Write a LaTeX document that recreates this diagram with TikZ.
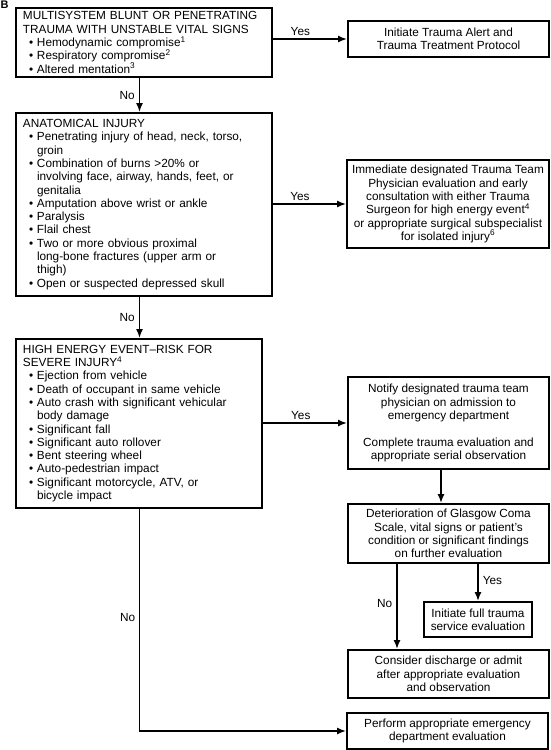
\documentclass[tikz,border=0pt]{standalone}
\usepackage{fontspec}
\setmainfont{Liberation Sans}
\usetikzlibrary{arrows.meta,calc}
\newcommand{\bul}{\makebox[14pt][l]{\hspace{6pt}\textbullet}}
\newcommand{\ind}{\hspace*{14pt}}
\begin{document}
\begin{tikzpicture}[x=1pt,y=-1pt,
  every node/.style={font=\fontsize{11.8pt}{13.3pt}\selectfont},
  box/.style={draw,line width=1.9pt,inner sep=0pt,align=center},
  lbox/.style={draw,line width=1.9pt,inner xsep=7pt,inner ysep=0pt,align=left},
  conn/.style={line width=1.6pt},
  arr/.style={conn,-{Latex[length=9pt,width=7pt]}},
  lab/.style={inner sep=1pt}]
\useasboundingbox (0,0) rectangle (551,750);
\node[font=\fontsize{11pt}{11pt}\selectfont\bfseries,inner sep=0pt,anchor=north west] (B) at (0.5,1) {B};

\node[lbox,minimum width=256pt,minimum height=69pt,text width=242pt] (b1) at (144,42.5)
 {MULTISYSTEM BLUNT OR PENETRATING\\
  TRAUMA WITH UNSTABLE VITAL SIGNS\\
  \bul Hemodynamic compromise\textsuperscript{1}\\
  \bul Respiratory compromise\textsuperscript{2}\\
  \bul Altered mentation\textsuperscript{3}};
\node[box,minimum width=201pt,minimum height=36pt] (alert) at (448.5,39)
 {Initiate Trauma Alert and\\Trauma Treatment Protocol};

\node[lbox,minimum width=256pt,minimum height=183pt,text width=242pt] (b2) at (144,204.5)
 {ANATOMICAL INJURY\\
  \bul Penetrating injury of head, neck, torso,\\
  \ind groin\\
  \bul Combination of burns >20\% or\\
  \ind involving face, airway, hands, feet, or\\
  \ind genitalia\\
  \bul Amputation above wrist or ankle\\
  \bul Paralysis\\
  \bul Flail chest\\
  \bul Two or more obvious proximal\\
  \ind long-bone fractures (upper arm or\\
  \ind thigh)\\
  \bul Open or suspected depressed skull};
\node[box,minimum width=202pt,minimum height=88pt] (imm) at (448,204)
 {Immediate designated Trauma Team\\
  Physician evaluation and early\\
  consultation with either Trauma\\
  Surgeon for high energy event\textsuperscript{4}\\
  or appropriate surgical subspecialist\\
  for isolated injury\textsuperscript{6}};

\node[lbox,minimum width=246pt,minimum height=169pt,text width=232pt] (b3) at (139,423.5)
 {HIGH ENERGY EVENT--RISK FOR\\
  SEVERE INJURY\textsuperscript{4}\\
  \bul Ejection from vehicle\\
  \bul Death of occupant in same vehicle\\
  \bul Auto crash with significant vehicular\\
  \ind body damage\\
  \bul Significant fall\\
  \bul Significant auto rollover\\
  \bul Bent steering wheel\\
  \bul Auto-pedestrian impact\\
  \bul Significant motorcycle, ATV, or\\
  \ind bicycle impact};
\node[box,minimum width=201pt,minimum height=92pt] (notify) at (448.5,423)
 {Notify designated trauma team\\
  physician on admission to\\
  emergency department\\[13.3pt]
  Complete trauma evaluation and\\
  appropriate serial observation};
\node[box,minimum width=201pt,minimum height=59pt] (det) at (448.5,533.5)
 {Deterioration of Glasgow Coma\\
  Scale, vital signs or patient's\\
  condition or significant findings\\
  on further evaluation};
\node[box,minimum width=108pt,minimum height=35pt] (full) at (478,619.5)
 {Initiate full trauma\\service evaluation};
\node[box,minimum width=201pt,minimum height=48pt] (cons) at (448.5,674)
 {Consider discharge or admit\\
  after appropriate evaluation\\
  and observation};
\node[box,minimum width=201pt,minimum height=36pt] (perf) at (447.5,731)
 {Perform appropriate emergency\\department evaluation};

\coordinate (spine) at (139.5,0);
\coordinate (nx) at (441,0);
\coordinate (nox) at (397,0);

\draw[arr] (b1.east |- alert.west) -- (alert.west)
  node[lab,pos=0.37,above=2pt] (y1) {Yes};
\draw[arr] (b1.south -| spine) -- (b2.north -| spine)
  node[lab,midway,left=3pt] (n1) {No};
\draw[arr] (b2.east |- imm.west) -- (imm.west)
  node[lab,pos=0.37,above=2pt] (y2) {Yes};
\draw[arr] (b2.south -| spine) -- (b3.north -| spine)
  node[lab,midway,left=3pt] (n2) {No};
\draw[arr] (b3.east |- notify.west) -- (notify.west)
  node[lab,pos=0.45,above=2pt] (y3) {Yes};
\draw[arr] (notify.south -| nx) -- (det.north -| nx);
\draw[arr] (det.south -| nox) -- (cons.north -| nox)
  node[lab,pos=0.47,left=3pt] (n3) {No};
\draw[arr] (det.south -| full.north) -- (full.north)
  node[lab,pos=0.45,right=3pt] (y4) {Yes};
\draw[arr] (b3.south -| spine) -- (spine |- perf.west) -- (perf.west);
\node[lab,left=3pt] (n4) at (139.5,617) {No};
\end{tikzpicture}
\end{document}
